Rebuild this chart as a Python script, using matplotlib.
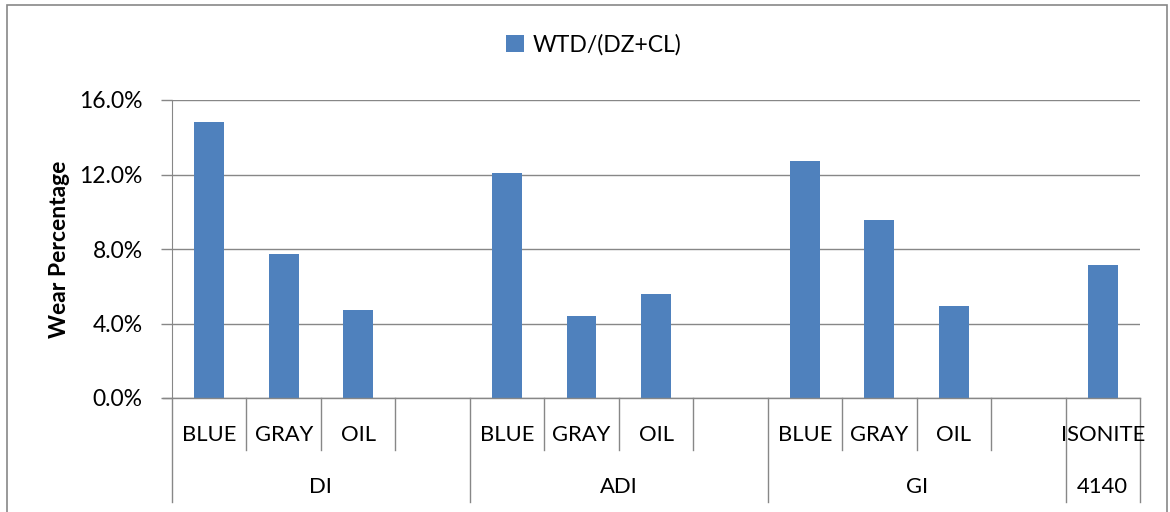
import matplotlib.pyplot as plt
import matplotlib.transforms as mtrans
from matplotlib.patches import Rectangle
from matplotlib.ticker import FuncFormatter

# data
groups = ['DI', 'ADI', 'GI', '4140']
group_sizes = [4, 4, 4, 1]
sub_labels = ['BLUE', 'GRAY', 'OIL', '',
              'BLUE', 'GRAY', 'OIL', '',
              'BLUE', 'GRAY', 'OIL', '',
              'ISONITE']
wear = [14.8, 7.75, 4.75, None,
        12.1, 4.38, 5.58, None,
        12.72, 9.55, 4.93, None,
        7.15]
series_name = 'WTD/(DZ+CL)'

plt.rcParams['font.family'] = ['Lato', 'DejaVu Sans']
fs = 15.8
gray = '#878787'
blue = '#4F81BD'

fig = plt.figure(figsize=(11.7, 5.12), dpi=100)
ax = fig.add_axes([172/1170, 1-398/512, (1140-172)/1170, (398-100)/512])

xs = [i for i, v in enumerate(wear) if v is not None]
vals = [v for v in wear if v is not None]
bars = ax.bar(xs, vals, width=0.4, color=blue, label=series_name, zorder=3)

n = len(sub_labels)
ax.set_xlim(-0.5, n - 0.5)
ax.set_ylim(0, 16)
ax.set_yticks([0, 4, 8, 12, 16])
ax.yaxis.set_major_formatter(FuncFormatter(lambda v, p: '%.1f%%' % v))
ax.grid(axis='y', color=gray, lw=1, zorder=0)
ax.set_xticks([])
for s in ['top', 'right', 'bottom']:
    ax.spines[s].set_visible(False)
ax.spines['left'].set_color(gray)
ax.tick_params(axis='y', length=8, width=1, color=gray, labelsize=16.5, pad=13)
fig.text(60/1170, 1-249/512, 'Wear Percentage', rotation=90, ha='center',
         va='center', fontsize=16.5, fontweight='bold')

# multi-level category axis
tr = mtrans.blended_transform_factory(ax.transData, ax.transAxes)
ax.plot([-0.5 - 0.12, n - 0.5], [0, 0], transform=tr, color=gray, lw=1,
        clip_on=False, zorder=4)
inner_y = -(450-398)/298
outer_y = -(502-398)/298
for i, lab in enumerate(sub_labels):
    ax.text(i, -(435-398)/298, lab, transform=tr, ha='center', va='center',
            fontsize=fs)
bounds = [-0.5]
for g in group_sizes:
    bounds.append(bounds[-1] + g)
for k in range(n + 1):
    b = k - 0.5
    y1 = outer_y if b in bounds else inner_y
    ax.plot([b, b], [0, y1], transform=tr, color=gray, lw=1, clip_on=False)
for gi, g in enumerate(groups):
    mid = (bounds[gi] + bounds[gi+1]) / 2
    ax.text(mid, -(487-398)/298, g, transform=tr, ha='center', va='center',
            fontsize=fs)

fig.legend(handles=[bars], labels=[series_name], loc='center',
           bbox_to_anchor=(594/1170, 1-45/512), frameon=False, fontsize=16.5,
           handlelength=0.75, handleheight=0.75, handletextpad=0.4)

fig.patches.append(Rectangle((7/1170, -0.02), 1160/1170, 1.02-5/512,
                             transform=fig.transFigure, fill=False,
                             edgecolor=gray, lw=1.2))

fig.savefig('out.png', dpi=100)
